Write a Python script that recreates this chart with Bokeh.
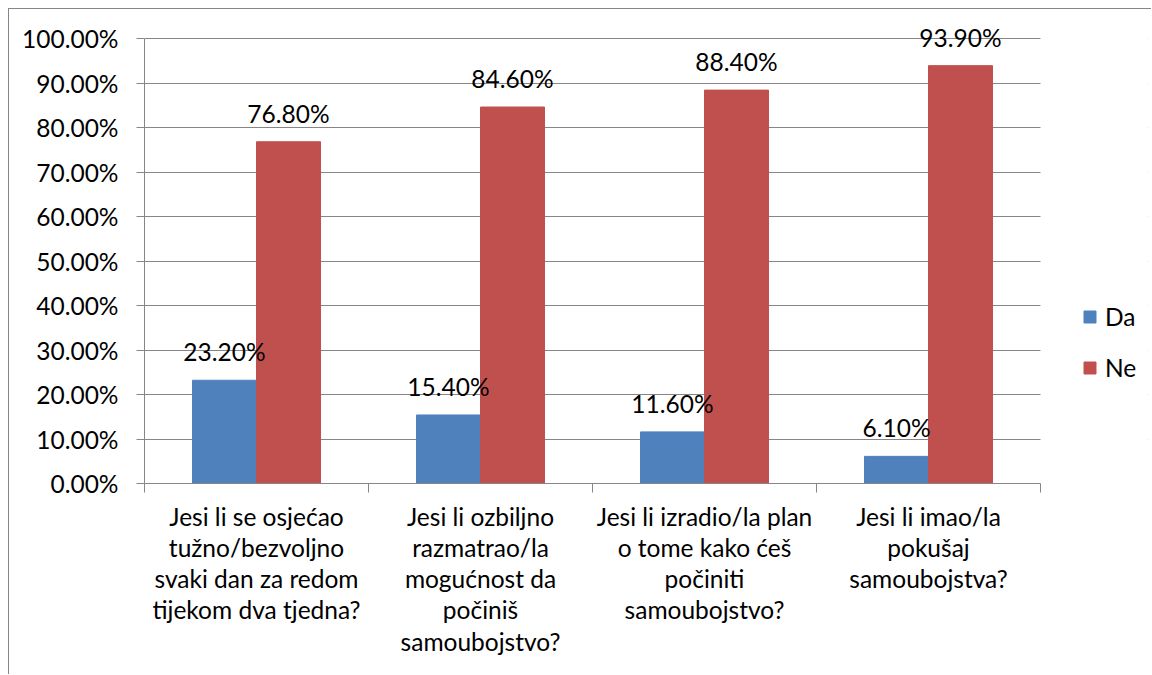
from bokeh.plotting import figure
from bokeh.models import (ColumnDataSource, Range1d, FixedTicker, NumeralTickFormatter,
                          Legend, LegendItem, LabelSet, BoxAnnotation)
from bokeh.core.properties import value
from bokeh.embed import file_html
from bokeh.resources import INLINE

categories = [
    "Jesi li se osjećao\ntužno/bezvoljno\nsvaki dan za redom\ntijekom dva tjedna?",
    "Jesi li ozbiljno\nrazmatrao/la\nmogućnost da\npočiniš\nsamoubojstvo?",
    "Jesi li izradio/la plan\no tome kako ćeš\npočiniti\nsamoubojstvo?",
    "Jesi li imao/la\npokušaj\nsamoubojstva?",
]
da = [0.232, 0.154, 0.116, 0.061]
ne = [0.768, 0.846, 0.884, 0.939]
series_names = ["Da", "Ne"]
colors = ["#4F81BD", "#C0504D"]

FONT = "Lato"
FS = "24.5px"
GRAY = "#868686"
BAR_W = 64 / 224

# layout (pixels): canvas 1143x666, plot area 896x445 inside a taller/wider frame
W, H = 1143, 666
LEFT, TOP, RIGHT, BOTTOM = 135, 9, 4, 192
PLOT_W, PLOT_H = 896, 445
FRAME_W, FRAME_H = W - LEFT - RIGHT, H - TOP - BOTTOM
n = len(categories)

centers = [i + 0.5 for i in range(n)]
src = ColumnDataSource(dict(
    x_da=[c - BAR_W / 2 for c in centers],
    x_ne=[c + BAR_W / 2 for c in centers],
    da=da, ne=ne,
    lab_da=[f"{v*100:.2f}%" for v in da],
    lab_ne=[f"{v*100:.2f}%" for v in ne],
))

p = figure(width=W, height=H,
           x_range=Range1d(0, n * FRAME_W / PLOT_W), y_range=Range1d(0, FRAME_H / PLOT_H),
           output_backend="svg", toolbar_location=None,
           min_border_left=LEFT, min_border_right=RIGHT, min_border_top=TOP, min_border_bottom=BOTTOM)
p.styles = {"margin-left": "8px", "margin-top": "8px",
            "border-left": f"1px solid {GRAY}", "border-top": f"1px solid {GRAY}"}
p.outline_line_color = None
p.background_fill_color = "white"
p.border_fill_color = "white"

p.xgrid.grid_line_color = None
p.ygrid.grid_line_color = GRAY
p.ygrid.grid_line_width = 1

# hide gridlines to the right of the plot area (legend zone)
p.add_layout(BoxAnnotation(left=n, fill_color="white", fill_alpha=1, line_color=None, level="underlay"))

r_da = p.vbar(x="x_da", top="da", width=BAR_W, source=src, fill_color=colors[0], line_color=colors[0])
r_ne = p.vbar(x="x_ne", top="ne", width=BAR_W, source=src, fill_color=colors[1], line_color=colors[1])

for xcol, ycol, tcol in [("x_da", "da", "lab_da"), ("x_ne", "ne", "lab_ne")]:
    p.add_layout(LabelSet(x=xcol, y=ycol, text=tcol, source=src, text_align="center",
                          text_baseline="alphabetic", y_offset=19, text_font=value(FONT),
                          text_font_size=value(FS), text_color="black"))

# y axis
yax = p.yaxis[0]
yax.ticker = FixedTicker(ticks=[i / 10 for i in range(11)])
yax.formatter = NumeralTickFormatter(format="0.00%")
yax.bounds = (0, 1)
yax.axis_line_color = GRAY
yax.major_tick_line_color = GRAY
yax.major_tick_out = 8
yax.major_tick_in = 0
yax.minor_tick_line_color = None
yax.major_label_standoff = 18
yax.major_label_text_font = FONT
yax.major_label_text_font_size = FS
yax.major_label_text_color = "black"

# x axis
xax = p.xaxis[0]
xax.ticker = FixedTicker(ticks=centers, minor_ticks=list(range(n + 1)))
xax.major_label_overrides = {c: lab for c, lab in zip(centers, categories)}
xax.bounds = (0, n)
xax.axis_line_color = GRAY
xax.major_tick_line_color = None
xax.major_tick_out = 0
xax.major_tick_in = 0
xax.minor_tick_line_color = GRAY
xax.minor_tick_out = 9
xax.minor_tick_in = 0
xax.major_label_standoff = 9
xax.major_label_text_font = FONT
xax.major_label_text_font_size = FS
xax.major_label_text_color = "black"
xax.major_label_text_line_height = 1.08
xax.major_label_text_align = "center"

legend = Legend(items=[LegendItem(label=series_names[0], renderers=[r_da]),
                       LegendItem(label=series_names[1], renderers=[r_ne])],
                location=(938, 101), orientation="vertical",
                glyph_width=15, glyph_height=15, label_height=26, spacing=22,
                label_standoff=8, padding=0, margin=0,
                border_line_color=None, background_fill_alpha=0,
                label_text_font=FONT, label_text_font_size=FS, label_text_color="black")
p.add_layout(legend, "center")

open("out.html", "w").write(file_html(p, INLINE))
